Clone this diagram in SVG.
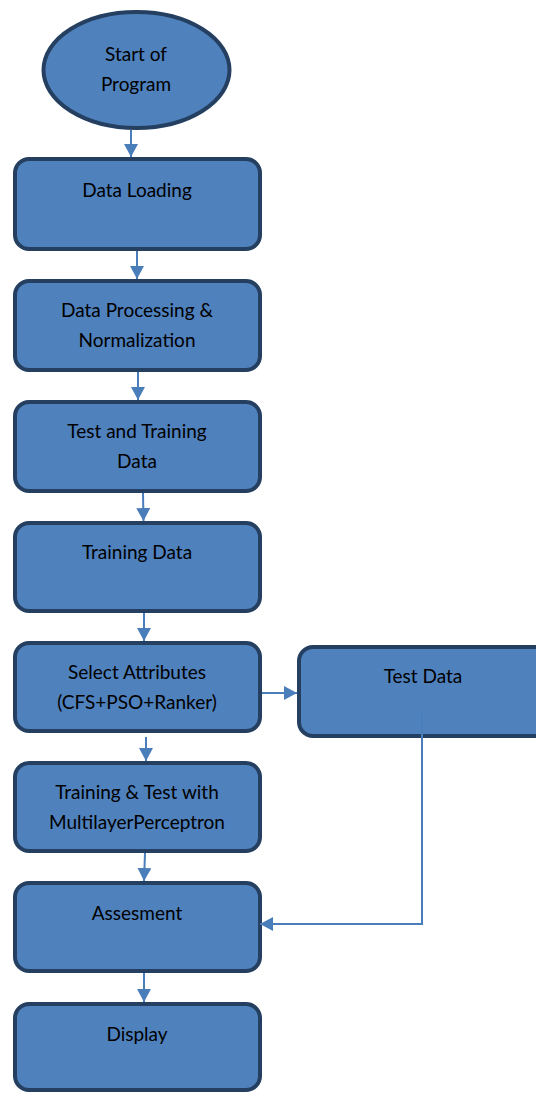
<svg xmlns="http://www.w3.org/2000/svg" width="536" height="1093" viewBox="0 0 536 1093">
<style>
.n{fill:#4f81bd;stroke:#243f60;stroke-width:4}
.t{font-family:Lato,"Liberation Sans",sans-serif;font-size:19px;fill:#000;text-anchor:middle}
.c{fill:none;stroke:#4a7ebb;stroke-width:2}
</style>
<defs>
<marker id="ah" markerUnits="userSpaceOnUse" markerWidth="14" markerHeight="14" refX="13" refY="7" orient="auto">
<path d="M0,0 L13,7 L0,14 Z" fill="#4a7ebb"/>
</marker>
</defs>
<rect width="536" height="1093" fill="#fff"/>
<g id="start"><ellipse class="n" cx="136.5" cy="70" rx="93" ry="58"/><text class="t" x="136" y="61">Start of</text><text class="t" x="136" y="91">Program</text></g>
<g id="n1"><rect class="n" x="15" y="159" width="245" height="90" rx="14"/><text class="t" x="137" y="197">Data Loading</text></g>
<g id="n2"><rect class="n" x="15" y="281" width="245" height="89" rx="14"/><text class="t" x="137" y="317">Data Processing &amp;</text><text class="t" x="137" y="347">Normalization</text></g>
<g id="n3"><rect class="n" x="15" y="402" width="245" height="89" rx="14"/><text class="t" x="137" y="438">Test and Training</text><text class="t" x="137" y="468">Data</text></g>
<g id="n4"><rect class="n" x="15" y="523" width="245" height="88" rx="14"/><text class="t" x="137" y="559">Training Data</text></g>
<g id="n5"><rect class="n" x="15" y="643" width="245" height="88" rx="14"/><text class="t" x="137" y="679">Select Attributes</text><text class="t" x="137" y="709">(CFS+PSO+Ranker)</text></g>
<g id="test"><rect class="n" x="299" y="647" width="260" height="89" rx="14"/><text class="t" x="423" y="683">Test Data</text></g>
<g id="n6"><rect class="n" x="15" y="763" width="245" height="88" rx="14"/><text class="t" x="137" y="799">Training &amp; Test with</text><text class="t" x="137" y="829">MultilayerPerceptron</text></g>
<g id="n7"><rect class="n" x="15" y="883" width="245" height="88" rx="14"/><text class="t" x="137" y="920">Assesment</text></g>
<g id="n8"><rect class="n" x="15" y="1004" width="245" height="86" rx="14"/><text class="t" x="137" y="1041">Display</text></g>
<g id="connectors">
<line class="c" x1="131" y1="130" x2="131" y2="157" marker-end="url(#ah)"/>
<line class="c" x1="137" y1="251" x2="137" y2="279" marker-end="url(#ah)"/>
<line class="c" x1="138" y1="372" x2="138" y2="400" marker-end="url(#ah)"/>
<line class="c" x1="143" y1="493" x2="143.5" y2="521" marker-end="url(#ah)"/>
<line class="c" x1="144" y1="613" x2="144" y2="641" marker-end="url(#ah)"/>
<line class="c" x1="146" y1="737" x2="146" y2="761" marker-end="url(#ah)"/>
<line class="c" x1="145" y1="853" x2="144" y2="881" marker-end="url(#ah)"/>
<line class="c" x1="144" y1="973" x2="144" y2="1002" marker-end="url(#ah)"/>
<line class="c" x1="262" y1="693" x2="297" y2="693" marker-end="url(#ah)"/>
<polyline class="c" points="422,713 422,924 260,924" marker-end="url(#ah)"/>
</g>
</svg>
